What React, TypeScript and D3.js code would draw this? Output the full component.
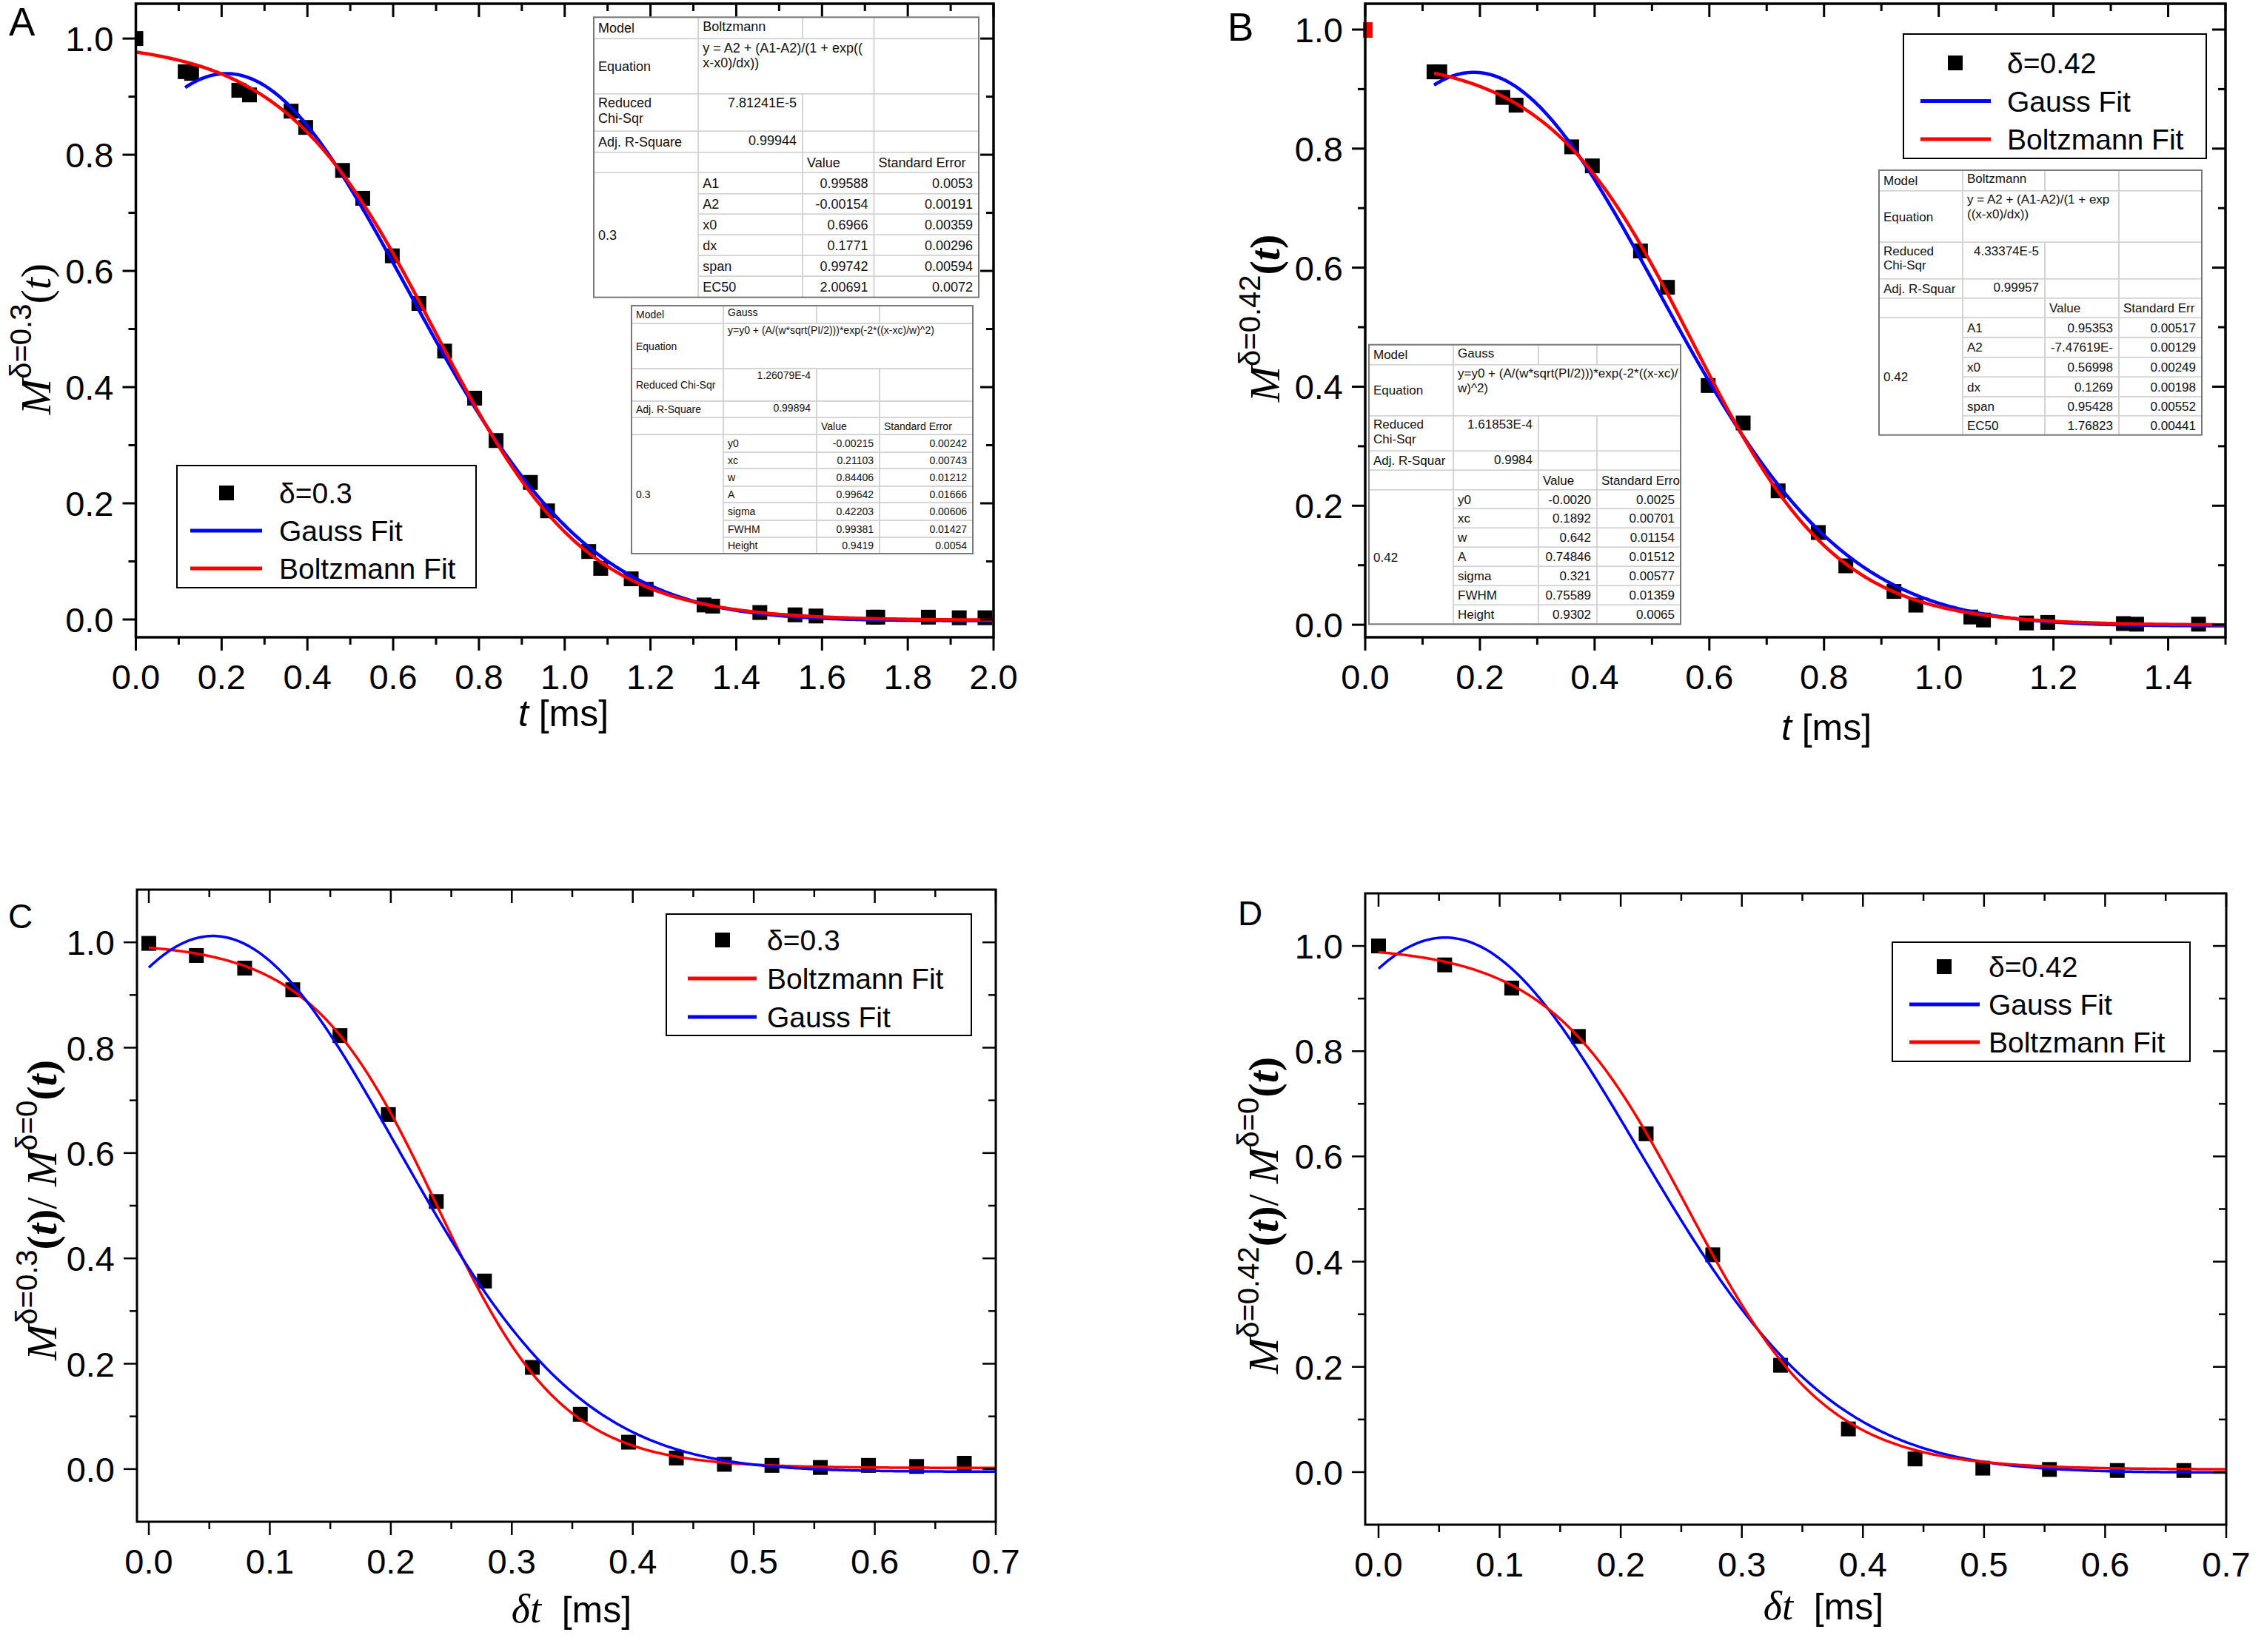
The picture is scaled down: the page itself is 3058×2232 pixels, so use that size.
import * as d3 from "d3";

const WIDTH = 3058;
const HEIGHT = 2232;
const SANS = "'Liberation Sans', Arial, Helvetica, sans-serif";
const SERIF = "'Liberation Serif', 'Times New Roman', serif";
const RED = "#ff0000";
const BLUE = "#0000ff";

// ---- A: magnetisation decay, delta = 0.3
const timeA = [0, 0.115, 0.13, 0.24, 0.265, 0.362, 0.396, 0.482, 0.529, 0.598, 0.66, 0.72, 0.79, 0.84, 0.92, 0.96, 1.056, 1.084, 1.155, 1.19, 1.325, 1.345, 1.455, 1.537, 1.586, 1.72, 1.73, 1.848, 1.92, 1.98];
const decayA = [1.0, 0.943, 0.94, 0.911, 0.903, 0.875, 0.847, 0.773, 0.725, 0.626, 0.544, 0.462, 0.381, 0.308, 0.236, 0.187, 0.117, 0.088, 0.07, 0.052, 0.025, 0.023, 0.012, 0.008, 0.006, 0.004, 0.004, 0.004, 0.003, 0.003];
const boltzParamsA = [0.99588, -0.00154, 0.6966, 0.1771]; // A1, A2, x0, dx
const gaussParamsA = [-0.00215, 0.21103, 0.84406, 0.99642]; // y0, xc, w, A

// ---- B: magnetisation decay, delta = 0.42
const timeB = [0.12, 0.13, 0.24, 0.263, 0.36, 0.396, 0.48, 0.527, 0.598, 0.659, 0.72, 0.79, 0.838, 0.922, 0.96, 1.056, 1.078, 1.153, 1.19, 1.322, 1.345, 1.453];
const decayB = [0.929, 0.929, 0.886, 0.873, 0.803, 0.771, 0.628, 0.567, 0.402, 0.339, 0.225, 0.155, 0.099, 0.056, 0.033, 0.013, 0.008, 0.003, 0.004, 0.002, 0.001, 0.001];
const boltzParamsB = [0.95353, -7.47619e-4, 0.56998, 0.1269];
const gaussParamsB = [-0.002, 0.1892, 0.642, 0.74846];

// ---- C: ratio to delta = 0, delta = 0.3
const timeC = [0, 0.0393, 0.0792, 0.119, 0.158, 0.198, 0.2376, 0.2774, 0.317, 0.3566, 0.3965, 0.436, 0.4757, 0.515, 0.555, 0.5948, 0.6346, 0.674];
const ratioC = [0.998, 0.975, 0.951, 0.91, 0.823, 0.673, 0.508, 0.357, 0.193, 0.104, 0.051, 0.021, 0.009, 0.007, 0.003, 0.007, 0.005, 0.011];
const boltzParamsC = [1.0, 0.002, 0.238, 0.052];
const gaussParamsC = [-0.005, 0.053, 0.304, 0.3875];

// ---- D: ratio to delta = 0, delta = 0.42
const timeD = [0, 0.0546, 0.11, 0.165, 0.221, 0.276, 0.332, 0.388, 0.443, 0.499, 0.554, 0.61, 0.665];
const ratioD = [1.0, 0.964, 0.92, 0.828, 0.643, 0.413, 0.203, 0.082, 0.025, 0.0075, 0.005, 0.003, 0.003];
const boltzParamsD = [1.0, 0.005, 0.255, 0.0577];
const gaussParamsD = [-0.001, 0.055, 0.318, 0.4053];

// ---- ticks
const xMajorA = [0, 0.2, 0.4, 0.6, 0.8, 1.0, 1.2, 1.4, 1.6, 1.8, 2.0];
const xMinorA = [0.1, 0.3, 0.5, 0.7, 0.9, 1.1, 1.3, 1.5, 1.7, 1.9];
const xMajorB = [0, 0.2, 0.4, 0.6, 0.8, 1.0, 1.2, 1.4];
const xMinorB = [0.1, 0.3, 0.5, 0.7, 0.9, 1.1, 1.3, 1.5];
const xMajorCD = [0, 0.1, 0.2, 0.3, 0.4, 0.5, 0.6, 0.7];
const xMinorCD = [0.05, 0.15, 0.25, 0.35, 0.45, 0.55, 0.65];
const yMajor = [0, 0.2, 0.4, 0.6, 0.8, 1.0];
const yMinor = [0.1, 0.3, 0.5, 0.7, 0.9];

// ---- fit report tables
const boltzNames = ["A1", "A2", "x0", "dx", "span", "EC50"];
const gaussNames = ["y0", "xc", "w", "A", "sigma", "FWHM", "Height"];
const boltzValuesA = ["0.99588", "-0.00154", "0.6966", "0.1771", "0.99742", "2.00691"];
const boltzErrorsA = ["0.0053", "0.00191", "0.00359", "0.00296", "0.00594", "0.0072"];
const gaussValuesA = ["-0.00215", "0.21103", "0.84406", "0.99642", "0.42203", "0.99381", "0.9419"];
const gaussErrorsA = ["0.00242", "0.00743", "0.01212", "0.01666", "0.00606", "0.01427", "0.0054"];
const boltzValuesB = ["0.95353", "-7.47619E-", "0.56998", "0.1269", "0.95428", "1.76823"];
const boltzErrorsB = ["0.00517", "0.00129", "0.00249", "0.00198", "0.00552", "0.00441"];
const gaussValuesB = ["-0.0020", "0.1892", "0.642", "0.74846", "0.321", "0.75589", "0.9302"];
const gaussErrorsB = ["0.0025", "0.00701", "0.01154", "0.01512", "0.00577", "0.01359", "0.0065"];

const boltzmann = ([A1, A2, x0, dx]: number[]) => (t: number) =>
  A2 + (A1 - A2) / (1 + Math.exp((t - x0) / dx));
const gauss = ([y0, xc, w, A]: number[]) => (t: number) =>
  y0 + (A / (w * Math.sqrt(Math.PI / 2))) * Math.exp(-2 * ((t - xc) / w) ** 2);

const fitPath = (f: (t: number) => number, t0: number, t1: number, x: any, y: any) => {
  const ts = d3.range(0, 401).map((i) => t0 + ((t1 - t0) * i) / 400);
  return d3
    .line<number>()
    .x((t) => x(t))
    .y((t) => y(f(t)))(ts) as string;
};

const fmt = d3.format(".1f");

type AxesProps = {
  x: d3.ScaleLinear<number, number>;
  y: d3.ScaleLinear<number, number>;
  xMajor: number[];
  xMinor: number[];
  sw: number;
};

const Axes = ({ x, y, xMajor, xMinor, sw }: AxesProps) => {
  const [l, r] = x.range();
  const [b, t] = y.range();
  const LM = 18;
  const LN = 10;
  return (
    <g>
      <g stroke="#000" strokeWidth={sw - 0.5}>
        {xMajor.map((v) => (
          <g key={"xM" + v}>
            <line x1={x(v)} x2={x(v)} y1={b} y2={b + LM} />
            <line x1={x(v)} x2={x(v)} y1={t} y2={t + LM} />
          </g>
        ))}
        {xMinor.map((v) => (
          <g key={"xm" + v}>
            <line x1={x(v)} x2={x(v)} y1={b} y2={b + LN} />
            <line x1={x(v)} x2={x(v)} y1={t} y2={t + LN} />
          </g>
        ))}
        {yMajor.map((v) => (
          <g key={"yM" + v}>
            <line x1={l} x2={l - LM} y1={y(v)} y2={y(v)} />
            <line x1={r} x2={r - LM} y1={y(v)} y2={y(v)} />
          </g>
        ))}
        {yMinor.map((v) => (
          <g key={"ym" + v}>
            <line x1={l} x2={l - LN} y1={y(v)} y2={y(v)} />
            <line x1={r} x2={r - LN} y1={y(v)} y2={y(v)} />
          </g>
        ))}
      </g>
      <g fontFamily={SANS} fontSize={47} fill="#000">
        {xMajor.map((v) => (
          <text key={"xl" + v} x={x(v)} y={b + 70} textAnchor="middle">
            {fmt(v)}
          </text>
        ))}
        {yMajor.map((v) => (
          <text key={"yl" + v} x={l - LM - 12} y={y(v) + 17} textAnchor="end">
            {fmt(v)}
          </text>
        ))}
      </g>
      <rect x={l} y={t} width={r - l} height={b - t} fill="none" stroke="#000" strokeWidth={sw} />
    </g>
  );
};

type LegendProps = {
  box: number[];
  cx: number;
  cy: number;
  lineX: number[];
  textX: number;
  step: number;
  labels: string[];
  colors: string[];
};

const Legend = ({ box, cx, cy, lineX, textX, step, labels, colors }: LegendProps) => (
  <g>
    <rect x={box[0]} y={box[1]} width={box[2] - box[0]} height={box[3] - box[1]} fill="#fff" stroke="#000" strokeWidth={2} />
    <rect x={cx - 10} y={cy - 10} width={20} height={20} fill="#000" />
    {colors.map((c, i) => (
      <line key={c} x1={lineX[0]} x2={lineX[1]} y1={cy + step * (i + 1)} y2={cy + step * (i + 1)} stroke={c} strokeWidth={5} />
    ))}
    <g fontFamily={SANS} fontSize={39} fill="#000">
      {labels.map((s, i) => (
        <text key={s} x={textX} y={cy + 14 + step * i}>
          {s}
        </text>
      ))}
    </g>
  </g>
);

type TableProps = {
  cols: number[];
  rows: number[];
  fs: number;
  model: string;
  eq: string[];
  eqSpan: number;
  chiLabel: string[];
  chi: string;
  r2Label: string;
  r2: string;
  errHead: string;
  group: string;
  names: string[];
  values: string[];
  errors: string[];
};

const FitTable = (p: TableProps) => {
  const { cols, rows, fs } = p;
  const pl = 6;
  const pr = 8;
  const lh = fs * 1.15;
  const cells: number[][] = [];
  const texts: { x: number; y: number; s: string; a: string }[] = [];
  const cell = (r0: number, r1: number, c0: number, c1: number) => cells.push([cols[c0], rows[r0], cols[c1], rows[r1]]);
  const top = (r: number) => rows[r] + fs * 1.02;
  const mid = (r0: number, r1: number) => (rows[r0] + rows[r1]) / 2 + fs * 0.36;
  const left = (c: number) => cols[c] + pl;
  const right = (c: number) => cols[c + 1] - pr;

  for (let c = 0; c < 4; c++) cell(0, 1, c, c + 1);
  cell(1, 2, 0, 1);
  cell(1, 2, 1, 1 + p.eqSpan);
  for (let c = 1 + p.eqSpan; c < 4; c++) cell(1, 2, c, c + 1);
  for (let r = 2; r < 5; r++) for (let c = 0; c < 4; c++) cell(r, r + 1, c, c + 1);
  const n = p.names.length;
  cell(5, 5 + n, 0, 1);
  for (let i = 0; i < n; i++) for (let c = 1; c < 4; c++) cell(5 + i, 6 + i, c, c + 1);

  texts.push({ x: left(0), y: mid(0, 1), s: "Model", a: "start" });
  texts.push({ x: left(1), y: top(0), s: p.model, a: "start" });
  texts.push({ x: left(0), y: mid(1, 2), s: "Equation", a: "start" });
  p.eq.forEach((s, i) => texts.push({ x: left(1), y: top(1) + i * lh, s, a: "start" }));
  if (p.chiLabel.length > 1) p.chiLabel.forEach((s, i) => texts.push({ x: left(0), y: top(2) + i * lh, s, a: "start" }));
  else texts.push({ x: left(0), y: mid(2, 3), s: p.chiLabel[0], a: "start" });
  texts.push({ x: right(1), y: top(2), s: p.chi, a: "end" });
  texts.push({ x: left(0), y: mid(3, 4), s: p.r2Label, a: "start" });
  texts.push({ x: right(1), y: top(3), s: p.r2, a: "end" });
  texts.push({ x: left(2), y: mid(4, 5), s: "Value", a: "start" });
  texts.push({ x: left(3), y: mid(4, 5), s: p.errHead, a: "start" });
  texts.push({ x: left(0), y: mid(5, 5 + n), s: p.group, a: "start" });
  p.names.forEach((s, i) => {
    texts.push({ x: left(1), y: mid(5 + i, 6 + i), s, a: "start" });
    texts.push({ x: right(2), y: mid(5 + i, 6 + i), s: p.values[i], a: "end" });
    texts.push({ x: right(3), y: mid(5 + i, 6 + i), s: p.errors[i], a: "end" });
  });

  const x0 = cols[0];
  const x1 = cols[4];
  const y0 = rows[0];
  const y1 = rows[rows.length - 1];
  return (
    <g>
      <rect x={x0} y={y0} width={x1 - x0} height={y1 - y0} fill="#fff" />
      {cells.map((c, i) => (
        <rect key={i} x={c[0]} y={c[1]} width={c[2] - c[0]} height={c[3] - c[1]} fill="none" stroke="#d2d2d2" strokeWidth={1.5} />
      ))}
      <rect x={x0} y={y0} width={x1 - x0} height={y1 - y0} fill="none" stroke="#7a7a7a" strokeWidth={2} />
      <g fontFamily={SANS} fontSize={fs} fill="#111">
        {texts.map((t, i) => (
          <text key={i} x={t.x} y={t.y} textAnchor={t.a as any}>
            {t.s}
          </text>
        ))}
      </g>
    </g>
  );
};

type YTitleProps = { x: number; y: number; sup: string; ratio: boolean; bold: boolean; fs: number; ss: number };

// M^{δ=...}(t), optionally divided by M^{δ=0}(t); drawn rotated along the left axis
const YTitle = ({ x, y, sup, ratio, bold, fs, ss }: YTitleProps) => {
  const up = fs * 0.45;
  const w = bold ? "bold" : "normal";
  const term = (s: string, k: string) => [
    <tspan key={k + "M"} fontFamily={SERIF} fontStyle="italic" fontSize={fs}>M</tspan>,
    <tspan key={k + "s"} fontFamily={SANS} fontSize={ss} dy={-up}>{s}</tspan>,
    <tspan key={k + "p"} fontFamily={SERIF} fontSize={fs} fontWeight={w} dy={up}>(</tspan>,
    <tspan key={k + "t"} fontFamily={SERIF} fontSize={fs} fontWeight={w} fontStyle="italic">t</tspan>,
    <tspan key={k + "q"} fontFamily={SERIF} fontSize={fs} fontWeight={w}>)</tspan>,
  ];
  return (
    <text transform={`translate(${x},${y}) rotate(-90)`} textAnchor="middle" fill="#000">
      {term(sup, "a")}
      {ratio && (
        <tspan fontFamily={SERIF} fontSize={fs}>
          /{"\u00a0"}
        </tspan>
      )}
      {ratio && term("δ=0", "b")}
    </text>
  );
};

const Scatter = ({ ts, vs, x, y }: { ts: number[]; vs: number[]; x: any; y: any }) => (
  <g fill="#000">
    {ts.map((t, i) => (
      <rect key={i} x={x(t) - 10} y={y(vs[i]) - 10} width={20} height={20} />
    ))}
  </g>
);

export default function App() {
  // scales per panel
  const xA = d3.scaleLinear().domain([0, 2]).range([183.5, 1342]);
  const yA = d3.scaleLinear().domain([-0.0306, 1.06]).range([861, 5]);
  const xB = d3.scaleLinear().domain([0, 1.5]).range([1844, 3006]);
  const yB = d3.scaleLinear().domain([-0.021, 1.0435]).range([861, 5]);
  const xC = d3.scaleLinear().domain([-0.0098, 0.7]).range([185, 1345]);
  const yC = d3.scaleLinear().domain([-0.1, 1.1]).range([2056, 1202]);
  const xD = d3.scaleLinear().domain([-0.011, 0.7]).range([1844, 3007]);
  const yD = d3.scaleLinear().domain([-0.1, 1.1]).range([2060, 1207]);

  const clip = (id: string, x: any, y: any) => {
    const [l, r] = x.range();
    const [b, t] = y.range();
    return (
      <clipPath id={id}>
        <rect x={l} y={t} width={r - l} height={b - t} />
      </clipPath>
    );
  };

  return (
    <svg width={WIDTH} height={HEIGHT} style={{ position: "absolute", left: 0, top: 0 }}>
      <defs>
        {clip("clipA", xA, yA)}
        {clip("clipB", xB, yB)}
        {clip("clipC", xC, yC)}
        {clip("clipD", xD, yD)}
      </defs>
      <rect width={WIDTH} height={HEIGHT} fill="#fff" />

      {/* A */}
      <g clipPath="url(#clipA)">
        <Scatter ts={timeA} vs={decayA} x={xA} y={yA} />
        <path d={fitPath(gauss(gaussParamsA), 0.115, 2, xA, yA)} fill="none" stroke={BLUE} strokeWidth={4.5} />
        <path d={fitPath(boltzmann(boltzParamsA), 0, 2, xA, yA)} fill="none" stroke={RED} strokeWidth={4.5} />
      </g>
      <Axes x={xA} y={yA} xMajor={xMajorA} xMinor={xMinorA} sw={3.5} />
      <FitTable
        cols={[802, 943.3, 1084, 1180.5, 1322]}
        rows={[23.3, 52.3, 126.7, 177.3, 205.7, 233.3, 261.7, 289.3, 317.3, 345.3, 373.3, 401.7]}
        fs={18}
        model="Boltzmann"
        eq={["y = A2 + (A1-A2)/(1 + exp((", "x-x0)/dx))"]}
        eqSpan={2}
        chiLabel={["Reduced", "Chi-Sqr"]}
        chi="7.81241E-5"
        r2Label="Adj. R-Square"
        r2="0.99944"
        errHead="Standard Error"
        group="0.3"
        names={boltzNames}
        values={boltzValuesA}
        errors={boltzErrorsA}
      />
      <FitTable
        cols={[853, 977, 1103, 1188, 1314]}
        rows={[413, 437, 498, 542, 564, 587, 611, 633, 657, 679, 703, 726, 748]}
        fs={14}
        model="Gauss"
        eq={["y=y0 + (A/(w*sqrt(PI/2)))*exp(-2*((x-xc)/w)^2)"]}
        eqSpan={3}
        chiLabel={["Reduced Chi-Sqr"]}
        chi="1.26079E-4"
        r2Label="Adj. R-Square"
        r2="0.99894"
        errHead="Standard Error"
        group="0.3"
        names={gaussNames}
        values={gaussValuesA}
        errors={gaussErrorsA}
      />
      <Legend box={[239, 629, 643, 794]} cx={306} cy={666} lineX={[257, 354]} textX={377} step={51} labels={["δ=0.3", "Gauss Fit", "Boltzmann Fit"]} colors={[BLUE, RED]} />
      <text x={12} y={48} fontFamily={SANS} fontSize={53}>A</text>
      <YTitle x={68} y={458} sup="δ=0.3" ratio={false} bold={false} fs={58} ss={40} />
      <text x={761} y={981} fontFamily={SANS} fontSize={50} textAnchor="middle">
        <tspan fontStyle="italic">t</tspan> [ms]
      </text>

      {/* B */}
      <g clipPath="url(#clipB)">
        <Scatter ts={timeB} vs={decayB} x={xB} y={yB} />
        <path d={fitPath(gauss(gaussParamsB), 0.12, 1.5, xB, yB)} fill="none" stroke={BLUE} strokeWidth={4.5} />
        <path d={fitPath(boltzmann(boltzParamsB), 0.12, 1.5, xB, yB)} fill="none" stroke={RED} strokeWidth={4.5} />
      </g>
      <rect x={xB(0) - 3} y={yB(1) - 10} width={13} height={21} fill={RED} />
      <Axes x={xB} y={yB} xMajor={xMajorB} xMinor={xMinorB} sw={3.5} />
      <FitTable
        cols={[2538, 2651, 2762, 2862, 2974]}
        rows={[230, 257.7, 327.3, 376.7, 402.7, 429.3, 456, 482.7, 509.3, 536, 561.7, 587.7]}
        fs={17}
        model="Boltzmann"
        eq={["y = A2 + (A1-A2)/(1 + exp", "((x-x0)/dx))"]}
        eqSpan={2}
        chiLabel={["Reduced", "Chi-Sqr"]}
        chi="4.33374E-5"
        r2Label="Adj. R-Squar"
        r2="0.99957"
        errHead="Standard Err"
        group="0.42"
        names={boltzNames}
        values={boltzValuesB}
        errors={boltzErrorsB}
      />
      <FitTable
        cols={[1849, 1963, 2078, 2157, 2270]}
        rows={[465.7, 492.7, 561.7, 609.3, 635.3, 661.7, 687.3, 713.3, 739.3, 765.3, 791.3, 817.3, 843.3]}
        fs={17}
        model="Gauss"
        eq={["y=y0 + (A/(w*sqrt(PI/2)))*exp(-2*((x-xc)/", "w)^2)"]}
        eqSpan={3}
        chiLabel={["Reduced", "Chi-Sqr"]}
        chi="1.61853E-4"
        r2Label="Adj. R-Squar"
        r2="0.9984"
        errHead="Standard Erro"
        group="0.42"
        names={gaussNames}
        values={gaussValuesB}
        errors={gaussErrorsB}
      />
      <Legend box={[2571, 46, 2980, 214]} cx={2641} cy={85} lineX={[2594, 2689]} textX={2711} step={51.5} labels={["δ=0.42", "Gauss Fit", "Boltzmann Fit"]} colors={[BLUE, RED]} />
      <text x={1658} y={55} fontFamily={SANS} fontSize={53}>B</text>
      <YTitle x={1728} y={430} sup="δ=0.42" ratio={false} bold={true} fs={58} ss={40} />
      <text x={2467} y={1000} fontFamily={SANS} fontSize={50} textAnchor="middle">
        <tspan fontStyle="italic">t</tspan> [ms]
      </text>

      {/* C */}
      <g clipPath="url(#clipC)">
        <Scatter ts={timeC} vs={ratioC} x={xC} y={yC} />
        <path d={fitPath(boltzmann(boltzParamsC), 0, 0.7, xC, yC)} fill="none" stroke={RED} strokeWidth={3.5} />
        <path d={fitPath(gauss(gaussParamsC), 0, 0.7, xC, yC)} fill="none" stroke={BLUE} strokeWidth={3.5} />
      </g>
      <Axes x={xC} y={yC} xMajor={xMajorCD} xMinor={xMinorCD} sw={3} />
      <Legend box={[900, 1235, 1312, 1399]} cx={976} cy={1270} lineX={[929, 1022]} textX={1036} step={52} labels={["δ=0.3", "Boltzmann Fit", "Gauss Fit"]} colors={[RED, BLUE]} />
      <text x={11} y={1254} fontFamily={SANS} fontSize={46}>C</text>
      <YTitle x={76} y={1635} sup="δ=0.3" ratio={true} bold={true} fs={58} ss={40} />
      <text x={772} y={2192} fontFamily={SANS} fontSize={50} textAnchor="middle">
        <tspan fontFamily={SERIF} fontStyle="italic" fontSize={54}>δt</tspan>
        {"\u00a0 [ms]"}
      </text>

      {/* D */}
      <g clipPath="url(#clipD)">
        <Scatter ts={timeD} vs={ratioD} x={xD} y={yD} />
        <path d={fitPath(gauss(gaussParamsD), 0, 0.7, xD, yD)} fill="none" stroke={BLUE} strokeWidth={3.5} />
        <path d={fitPath(boltzmann(boltzParamsD), 0, 0.7, xD, yD)} fill="none" stroke={RED} strokeWidth={3.5} />
      </g>
      <Axes x={xD} y={yD} xMajor={xMajorCD} xMinor={xMinorCD} sw={3} />
      <Legend box={[2556, 1273, 2958, 1434]} cx={2626} cy={1306} lineX={[2579, 2674]} textX={2686} step={51} labels={["δ=0.42", "Gauss Fit", "Boltzmann Fit"]} colors={[BLUE, RED]} />
      <text x={1672} y={1250} fontFamily={SANS} fontSize={46}>D</text>
      <YTitle x={1726} y={1642} sup="δ=0.42" ratio={true} bold={true} fs={58} ss={40} />
      <text x={2463} y={2188} fontFamily={SANS} fontSize={50} textAnchor="middle">
        <tspan fontFamily={SERIF} fontStyle="italic" fontSize={54}>δt</tspan>
        {"\u00a0 [ms]"}
      </text>
    </svg>
  );
}
